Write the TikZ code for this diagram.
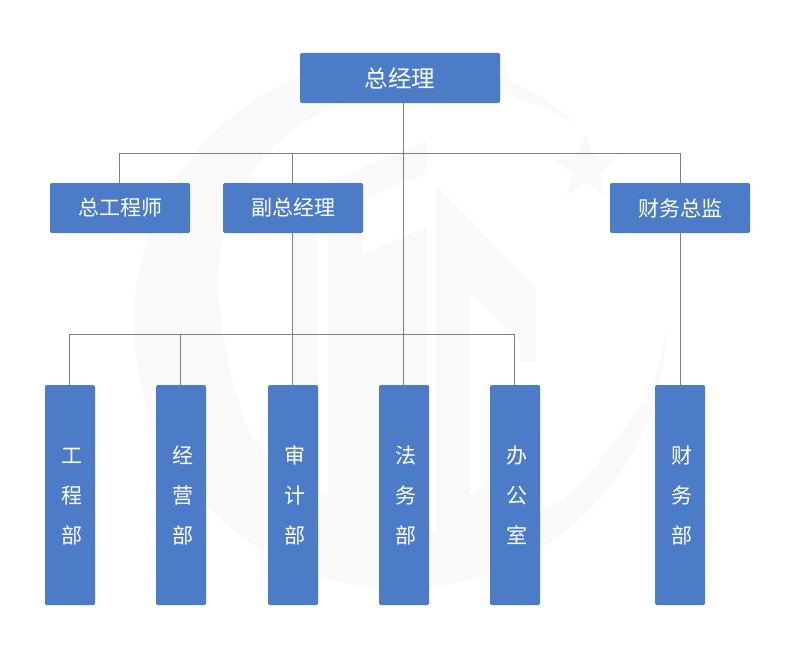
\documentclass[tikz,border=0pt]{standalone}
\usepackage{fontspec}
\setmainfont{Noto Sans CJK SC}
\definecolor{boxblue}{HTML}{4C7CC8}
\definecolor{markgrey}{HTML}{F9F9FA}
\tikzset{
  head/.style={fill=boxblue,rounded corners=1.5pt,inner sep=0pt,text=white,minimum height=50pt},
  top/.style={head,minimum width=200pt,font=\fontsize{23.5}{23.5}\selectfont},
  mid/.style={head,minimum width=140pt,font=\fontsize{21}{21}\selectfont},
  dept/.style={head,minimum width=50pt,minimum height=220pt,text width=25pt,align=right,
    font=\fontsize{21}{40}\selectfont,execute at begin node=\strut,execute at end node=\strut},
  wire/.style={draw=black!50!white,line width=1pt},
}
\begin{document}
\begin{tikzpicture}[x=1pt,y=-1pt]
\useasboundingbox (0,0) rectangle (800,661);
\fill[white] (0,0) rectangle (800,661);
% faint mark behind the chart
\begin{scope}[markgrey]
    \fill (666,323) arc[start angle=0,end angle=311,radius=266]
        -- plot[smooth,tension=.6] coordinates {(574.5,122) (500,92) (420,85) (340,103) (270,150) (230,220) (218,292) (238,400) (268,457) (327,495) (380,520) (450,532) (540,510) (583,480) (650,390) (666,323)} -- cycle;
    \fill (585,135) -- (595,158) -- (617,158) -- (599,173) -- (605,196) -- (585,182) -- (567,196) -- (572,173) -- (553,158) -- (575,158) -- cycle;
    \fill (293,225) rectangle (318,520);
    \fill (427,141) -- (427,173) -- (362,200) -- (362,255) -- (427,227) -- (427,545) -- (328,545) -- (328,182) -- cycle;
    \fill (436,185) -- (536,288) -- (536,361) -- (520,361) -- (520,342) -- (470,292) -- (470,495) -- (490,483) -- (490,545) -- (436,545) -- cycle;
\end{scope}

\node (gm)[top] at (400,78) {总经理};
\node (eng)[mid] at (120,208) {总工程师};
\node (vp)[mid] at (293,208) {副总经理};
\node (cfo)[mid] at (680,208) {财务总监};
\node (d1)[dept] at (70,495) {工\\程\\部};
\node (d2)[dept] at (181,495) {经\\营\\部};
\node (d3)[dept] at (293,495) {审\\计\\部};
\node (d4)[dept] at (404,495) {法\\务\\部};
\node (d5)[dept] at (515,495) {办\\公\\室};
\node (d6)[dept] at (680,495) {财\\务\\部};

\begin{scope}[every path/.style={wire}]
    \coordinate (up) at (403.5,153.5);
    \coordinate (low) at (403.5,334.5);
    \path (gm.south -| up) -- (d4.north -| up);
    \path ([xshift=-.5pt]eng.north) |- (up);
    \path (cfo.north) |- (up);
    \path ([xshift=-.5pt]vp.north) -- ([xshift=-.5pt]vp.north |- up);
    \path ([xshift=-.5pt]vp.south) -- ([xshift=-.5pt]d3.north);
    \path (cfo.south) -- (d6.north);
    \path ([xshift=-.5pt]d1.north) |- (low);
    \path ([xshift=-.5pt]d5.north) |- (low);
    \path ([xshift=-.5pt]d2.north) -- ([xshift=-.5pt]d2.north |- low);
\end{scope}
\end{tikzpicture}
\end{document}
